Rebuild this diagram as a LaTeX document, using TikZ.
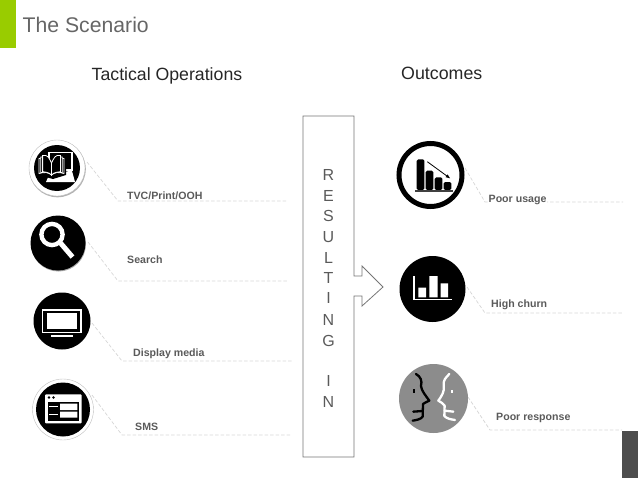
\documentclass[tikz,border=0pt]{standalone}
\usepackage{fontspec}
\setmainfont{Liberation Sans}
\definecolor{gr}{HTML}{99CC00}
\definecolor{lab}{HTML}{5A5A5A}
\definecolor{dash}{HTML}{D6D6D6}
\definecolor{titlec}{HTML}{666666}
\definecolor{boxc}{HTML}{757575}
\definecolor{darkr}{HTML}{4D4D4D}
\definecolor{facebg}{HTML}{8C8C8C}
\tikzset{
  lbl/.style={anchor=base west,inner sep=0pt,text=lab,font=\fontsize{10.6}{12}\selectfont\bfseries},
  head/.style={anchor=base west,inner sep=0pt,text=black!85,font=\fontsize{#1}{22}\selectfont},
  letter/.style={inner sep=0pt,text=lab,font=\fontsize{16}{18}\selectfont},
  leader/.style={draw=dash,line width=.7pt,dash pattern=on 3.5pt off 2pt},
  disc/.style={circle,fill=black,inner sep=0pt,minimum size=#1},
  wl/.style={draw=white,line width=#1},
}
\begin{document}
\begin{tikzpicture}[x=1pt,y=-1pt]
\useasboundingbox (0,0) rectangle (638,479);
\fill[gr] (0,0) rectangle (16,48);
\fill[darkr] (622,431) rectangle (638,478);
\node[anchor=base west,inner sep=0pt,text=titlec,font=\fontsize{21.2}{24}\selectfont] (title) at (22.5,32) {The Scenario};
\node[head=17.7] (hl) at (91.5,80) {Tactical Operations};
\node[head=17.8] (hr) at (401,79.5) {Outcomes};

% leaders
\coordinate (a1) at (87,162); \coordinate (b1) at (118,201); \coordinate (c1) at (287,201);
\coordinate (a2) at (88,242); \coordinate (b2) at (118,281); \coordinate (c2) at (287,281);
\coordinate (a3) at (92,323); \coordinate (b3) at (122,361); \coordinate (c3) at (293,361);
\coordinate (a4) at (92,395); \coordinate (b4) at (122,435); \coordinate (c4) at (290,435);
\coordinate (a5) at (465,168); \coordinate (b5) at (485,202); \coordinate (c5) at (623,202);
\coordinate (a6) at (467,287); \coordinate (b6) at (485,313); \coordinate (c6) at (623,313);
\coordinate (a7) at (468,397); \coordinate (b7) at (490,430); \coordinate (c7) at (622,430);
\foreach \i in {1,...,7} \draw[leader] (a\i) -- (b\i) -- (c\i);

% labels
\node[lbl,fill=white,inner sep=.5pt] (l5) at (488,202) {Poor usage};
\node[lbl] (l1) at (127,199.5) {TVC/Print/OOH};
\node[lbl] (l2) at (127,263) {Search};
\node[lbl] (l3) at (133,356) {Display media};
\node[lbl] (l4) at (135,430) {SMS};
\node[lbl] (l6) at (491,307) {High churn};
\node[lbl] (l7) at (496,420) {Poor response};

% central box with arrow
\draw[boxc,line width=.8pt,line join=miter]
  (303,116) -- (354,116) -- (354,276) -- (362,276) -- (362,266) -- (383,287)
  -- (362,306) -- (362,296) -- (354,296) -- (354,457) -- (303,457) -- cycle;
\foreach \t/\y in {R/175,E/196,S/216,U/237,L/258,T/278,I/298,N/320,G/341,I/381,N/402}
  \node[letter] at (328.5,\y) {\t};

% icon 1: book and screen
\fill[black!30] (57.5,169) circle (28.3);
\node[circle,draw=black!25,line width=.4pt,fill=white,inner sep=0pt,minimum size=56pt] (i1) at (57,168) {};
\node[disc=46pt] (i1b) at (57,168) {};
\draw[wl=1.1pt] (49,152.5) rectangle (72,170);
\fill[white] (46,182) -- (49,175) -- (69,171) -- (72,171) -- (75,182) -- cycle;
\fill[black] (38,155) -- (52,160) -- (66,155) -- (66,175) -- (53,179) -- (38,175) -- cycle;
\foreach \d in {0,1.8,3.6}{
  \draw[white,line width=.8pt,fill=black] (39+\d,173.5-.5*\d) -- (39+\d,158.5-.8*\d) .. controls (44+\d,157-.8*\d) and (49,158) .. (51.5,163)
     -- (51.5,175) .. controls (49,172) and (44,172) .. cycle;
  \draw[white,line width=.8pt,fill=black] (64-\d,173.5-.5*\d) -- (64-\d,158.5-.8*\d) .. controls (59-\d,157-.8*\d) and (54,158) .. (51.5,163)
     -- (51.5,175) .. controls (54,172) and (59,172) .. cycle;
}

% icon 2: magnifier
\fill[black!35] (58.5,244) circle (27.5);
\node[disc=55pt] (i2) at (58,243) {};
\draw[white,line width=4.4pt] (52,234.5) circle (10.6);
\draw[white,line width=5pt] (60.5,243) -- (72.5,257);

% icon 3: display
\node[disc=57pt] (i3) at (62,321) {};
\draw[white,line width=1.4pt] (42.5,310) rectangle (81,332.2);
\fill[white] (46.7,312.7) rectangle (77.3,329.3);
\fill[white] (50.7,335) rectangle (72.7,336.8);

% icon 4: window
\node[circle,draw=black!25,line width=.4pt,fill=white,inner sep=0pt,minimum size=61pt] (i4) at (63,409.5) {};
\node[disc=54pt] (i4b) at (63,409.5) {};
\fill[white,rounded corners=1pt] (45,394.3) rectangle (81.7,423.3);
\fill[black] (49,397.5) circle (1.3) (53.5,397.5) circle (1.3);
\fill[black] (47.7,401.7) rectangle (79,421);
\fill[white] (60,403.5) rectangle (77.3,410) (60,411.7) rectangle (77.3,417.7);
\draw[white,line width=.9pt] (49.3,406.7) -- (57.7,406.7) (49.3,414) -- (57.7,414);

% icon 5: falling bars
\node[circle,draw=black,line width=5pt,fill=white,inner sep=0pt,minimum size=63pt] (i5) at (430.5,175) {};
\fill[black,rounded corners=1.5pt] (416.7,190) -- (416.7,159.3) -- (424.3,159.3) -- (424.3,190) -- cycle;
\fill[black,rounded corners=1.5pt] (425.7,190) -- (425.7,170.7) -- (433.3,170.7) -- (433.3,190) -- cycle;
\fill[black,rounded corners=1.5pt] (434.7,190) -- (434.7,177.3) -- (442.3,177.3) -- (442.3,190) -- cycle;
\fill[black,rounded corners=1.5pt] (443.7,190) -- (443.7,182) -- (451.3,182) -- (451.3,190) -- cycle;
\fill[black!75] (415,189.9) rectangle (453.3,191.6);
\draw[black,line width=.8pt] (427.3,161.7) -- (448,176.8);
\fill[black] (450,178.3) -- (445.6,177.2) -- (447.6,174.4) -- cycle;

% icon 6: white bars
\node[disc=66pt] (i6) at (432.5,289) {};
\draw[white,line width=1.2pt] (414,276) -- (414,299.5) -- (451.7,299.5);
\fill[white] (418.3,287.7) rectangle (426,297.3)
             (429.3,276) rectangle (437.7,297.3)
             (440.7,283.3) rectangle (448,297.3);

% icon 7: faces
\node[circle,fill=facebg,inner sep=0pt,minimum size=69pt] (i7) at (433.5,398.5) {};
\begin{scope}[shift={(390,360)},x=.3333pt,y=-.3333pt]
\draw[black,line width=2.3pt,line cap=round,line join=round]
  (78,42) .. controls (92,50) and (97,62) .. (93,78) .. controls (94,92) and (108,108) .. (118,122)
  .. controls (112,128) and (102,126) .. (99,132) -- (98,170) .. controls (92,178) and (80,180) .. (68,182);
\draw[black,line width=2.3pt,line cap=round] (70,155) -- (98,153);
\draw[black,line width=2.3pt] (72,88) -- (72,98);
\draw[white,line width=2.3pt,line cap=round,line join=round]
  (178,42) .. controls (168,52) and (158,62) .. (161,78) .. controls (164,95) and (155,108) .. (145,122)
  .. controls (152,128) and (162,130) .. (164,137) -- (163,168) .. controls (170,176) and (182,178) .. (195,180);
\draw[white,line width=2.3pt,line cap=round] (164,152) -- (190,155);
\draw[white,line width=2.3pt] (187,90) -- (187,100);
\end{scope}
\end{tikzpicture}
\end{document}
